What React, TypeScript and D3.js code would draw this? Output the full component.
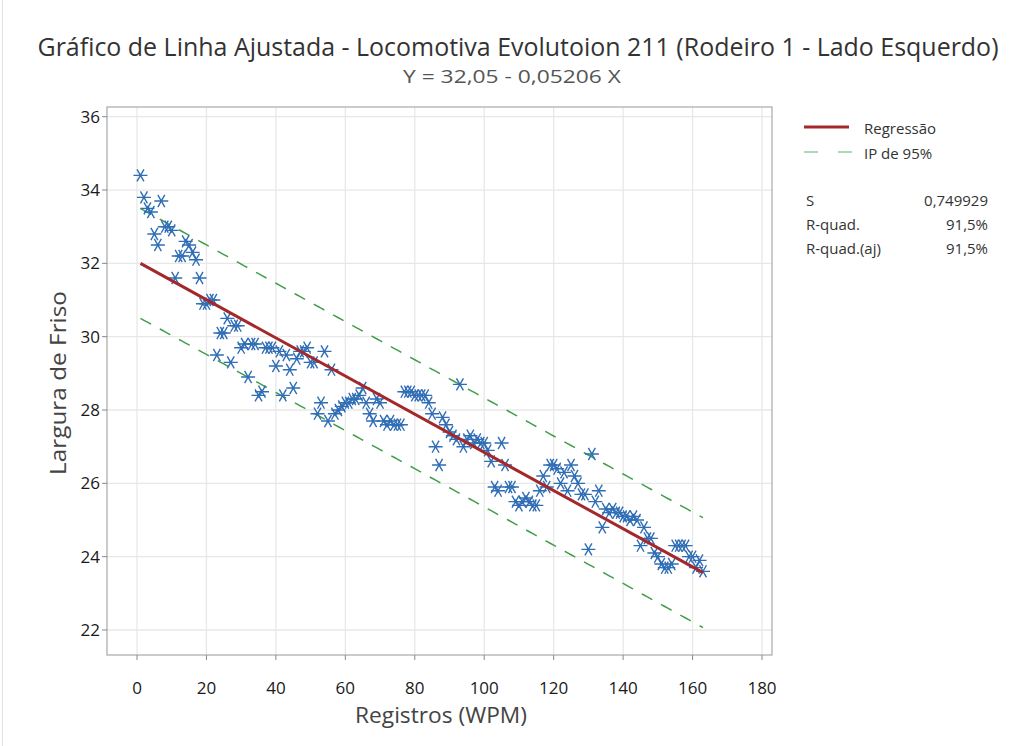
import React from "react";
import * as d3 from "d3";

// ---- Data ----
const largura: number[] = [
  34.4, 33.8, 33.5, 33.4, 32.8, 32.5, 33.7, 33.0, 33.0, 32.9,
  31.6, 32.2, 32.2, 32.6, 32.5, 32.3, 32.1, 31.6, 30.9, 30.9,
  31.0, 31.0, 29.5, 30.1, 30.1, 30.5, 29.3, 30.3, 30.3, 29.7,
  29.8, 28.9, 29.8, 29.8, 28.4, 28.5, 29.7, 29.7, 29.7, 29.2,
  29.6, 28.4, 29.5, 29.1, 28.6, 29.4, 29.6, 29.6, 29.7, 29.3,
  29.3, 27.9, 28.2, 29.6, 27.7, 29.1, 27.9, 28.0, 28.1, 28.2,
  28.2, 28.3, 28.3, 28.4, 28.6, 28.2, 27.9, 27.7, 28.3, 28.2,
  27.7, 27.6, 27.7, 27.6, 27.6, 27.6, 28.5, 28.5, 28.5, 28.4,
  28.4, 28.4, 28.4, 28.2, 27.9, 27.0, 26.5, 27.8, 27.6, 27.4,
  27.3, 27.2, 28.7, 27.0, 27.2, 27.3, 27.1, 27.2, 27.1, 27.1,
  26.9, 26.6, 25.9, 25.8, 27.1, 26.5, 25.9, 25.9, 25.5, 25.4,
  25.5, 25.6, 25.5, 25.4, 25.4, 25.8, 26.2, 25.9, 26.5, 26.5,
  26.4, 26.0, 26.3, 25.8, 26.5, 26.2, 26.0, 25.7, 25.7, 24.2,
  26.8, 25.5, 25.8, 24.8, 25.3, 25.2, 25.3, 25.2, 25.2, 25.1,
  25.1, 25.0, 25.1, 25.0, 24.3, 24.8, 24.5, 24.5, 24.1, 24.0,
  23.8, 23.7, 23.7, 23.8, 24.3, 24.3, 24.3, 24.3, 24.0, 24.0,
  23.7, 23.9, 23.6,
];
// Record index (Registros) 1..n
const registros: number[] = largura.map((_, i) => i + 1);

const xTicks = [0, 20, 40, 60, 80, 100, 120, 140, 160, 180];
const yTicks = [22, 24, 26, 28, 30, 32, 34, 36];

const intercept = 32.05;
const slope = -0.05206;
const sValue = 0.749929;
const tCrit = 1.9748;

const titleText =
  "Gráfico de Linha Ajustada - Locomotiva Evolutoion 211 (Rodeiro 1 - Lado Esquerdo)";
const subtitleText = "Y = 32,05 - 0,05206 X";
const legendLabels = ["Regressão", "IP de 95%"];
const statLabels = ["S", "R-quad.", "R-quad.(aj)"];
const statValues = ["0,749929", "91,5%", "91,5%"];

const FONT = "'Open Sans', 'Noto Sans', sans-serif";

export default function App() {
  const W = 1013;
  const H = 746;
  const frame = { left: 107, top: 107, right: 772, bottom: 655 };

  const x = d3.scaleLinear().domain([0, 180]).range([137, 762]);
  const y = d3.scaleLinear().domain([22, 36]).range([630, 116.7]);

  const n = registros.length;
  const xbar = d3.mean(registros) as number;
  const sxx = d3.sum(registros, (v) => (v - xbar) * (v - xbar));
  const xMin = d3.min(registros) as number;
  const xMax = d3.max(registros) as number;
  const fit = (v: number) => intercept + slope * v;
  const hw = (v: number) =>
    tCrit * sValue * Math.sqrt(1 + 1 / n + ((v - xbar) * (v - xbar)) / sxx);

  const fitLine = d3
    .line<number>()
    .x((v) => x(v))
    .y((v) => y(fit(v)))([xMin, xMax]) as string;
  const upper = d3
    .line<number>()
    .x((v) => x(v))
    .y((v) => y(fit(v) + hw(v)))(registros) as string;
  const lower = d3
    .line<number>()
    .x((v) => x(v))
    .y((v) => y(fit(v) - hw(v)))(registros) as string;

  const r = 7;
  const c = Math.cos(Math.PI / 3) * r;
  const s = Math.sin(Math.PI / 3) * r;
  const star = `M${-r},0L${r},0M${-c},${-s}L${c},${s}M${-c},${s}L${c},${-s}`;

  const green = "#3f9f48";
  const red = "#a3282a";
  const blue = "#2f6db5";

  return (
    <svg
      width={W}
      height={H}
      style={{ position: "absolute", left: 0, top: 0, display: "block", background: "#fff" }}
      fontFamily={FONT}
    >
      <rect x={0} y={0} width={W} height={H} fill="#fff" />
      <line x1={2.5} y1={0} x2={2.5} y2={H} stroke="#e2e2e2" />

      {/* title */}
      <text
        x={518}
        y={56}
        textAnchor="middle"
        fontSize={25}
        fill="#333"
        textLength={961}
        lengthAdjust="spacingAndGlyphs"
      >
        {titleText}
      </text>
      <text
        x={512}
        y={83}
        textAnchor="middle"
        fontSize={19}
        fill="#555"
        textLength={218}
        lengthAdjust="spacingAndGlyphs"
      >
        {subtitleText}
      </text>

      {/* grid */}
      {xTicks.map((t) => (
        <line key={"gx" + t} x1={x(t)} x2={x(t)} y1={frame.top} y2={frame.bottom} stroke="#e8e8e8" strokeWidth={1.3} />
      ))}
      {yTicks.map((t) => (
        <line key={"gy" + t} x1={frame.left} x2={frame.right} y1={y(t)} y2={y(t)} stroke="#e8e8e8" strokeWidth={1.3} />
      ))}

      {/* frame */}
      <rect
        x={frame.left}
        y={frame.top}
        width={frame.right - frame.left}
        height={frame.bottom - frame.top}
        fill="none"
        stroke="#a8a8a8"
        strokeWidth={1.2}
      />

      {/* axes ticks */}
      {xTicks.map((t) => (
        <g key={"xt" + t}>
          <line x1={x(t)} x2={x(t)} y1={frame.bottom} y2={frame.bottom + 5} stroke="#888" />
          <text x={x(t)} y={694} textAnchor="middle" fontSize={17} fill="#1a1a1a">
            {t}
          </text>
        </g>
      ))}
      {yTicks.map((t) => (
        <g key={"yt" + t}>
          <line x1={frame.left - 5} x2={frame.left} y1={y(t)} y2={y(t)} stroke="#888" />
          <text x={100} y={y(t) + 6} textAnchor="end" fontSize={17} fill="#1a1a1a">
            {t}
          </text>
        </g>
      ))}

      {/* axis labels */}
      <text
        x={441}
        y={723}
        textAnchor="middle"
        fontSize={21}
        fill="#444"
        textLength={172}
        lengthAdjust="spacingAndGlyphs"
      >
        Registros (WPM)
      </text>
      <text
        transform={`translate(66, ${(frame.top + frame.bottom) / 2 + 2}) rotate(-90)`}
        textAnchor="middle"
        fontSize={21}
        fill="#444"
        textLength={184}
        lengthAdjust="spacingAndGlyphs"
      >
        Largura de Friso
      </text>

      {/* PI lines */}
      <path d={upper} fill="none" stroke={green} strokeWidth={1.5} strokeDasharray="12,10" />
      <path d={lower} fill="none" stroke={green} strokeWidth={1.5} strokeDasharray="12,10" />

      {/* points */}
      {registros.map((v, i) => (
        <path
          key={"p" + i}
          d={star}
          transform={`translate(${x(v)},${y(largura[i])})`}
          fill="none"
          stroke={blue}
          strokeWidth={1.4}
        />
      ))}

      {/* regression */}
      <path d={fitLine} fill="none" stroke={red} strokeWidth={3} />

      {/* legend */}
      <line x1={804} x2={849} y1={127} y2={127} stroke={red} strokeWidth={3} />
      <text x={864} y={134} fontSize={15} fill="#333">
        {legendLabels[0]}
      </text>
      <line x1={804} x2={853} y1={152} y2={152} stroke="#8fd19a" strokeWidth={1.5} strokeDasharray="14,20" />
      <text x={864} y={159} fontSize={15} fill="#333">
        {legendLabels[1]}
      </text>

      {statLabels.map((l, i) => (
        <g key={"st" + i}>
          <text x={806} y={206 + i * 24} fontSize={15} fill="#333">
            {l}
          </text>
          <text x={988} y={206 + i * 24} fontSize={15} fill="#333" textAnchor="end">
            {statValues[i]}
          </text>
        </g>
      ))}
    </svg>
  );
}
